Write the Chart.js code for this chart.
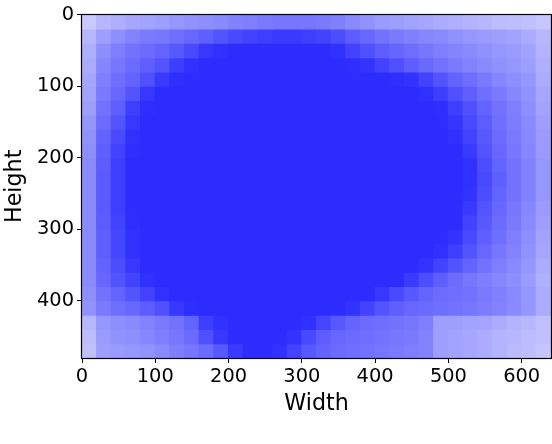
<!DOCTYPE html>
<html>
<head>
<meta charset="utf-8">
<script src="https://cdn.jsdelivr.net/npm/chart.js@4/dist/chart.umd.min.js"></script>
<style>
  html, body { margin: 0; padding: 0; background: #fff; }
  canvas { display: block; }
</style>
</head>
<body>
<canvas id="c" width="552" height="444"></canvas>
<script>
// Image grid: column centres (Width) and row centres (Height), in pixels of the 640x480 image
const columns = [10,30,50,70,90,110,130,150,170,190,210,230,250,270,290,310,330,350,370,390,410,430,450,470,490,510,530,550,570,590,610,630];
const rows = [10,30,50,70,90,110,130,150,170,190,210,230,250,270,290,310,330,350,370,390,410,430,450,470];
const xTicks = [0,100,200,300,400,500,600];
const yTicks = [0,100,200,300,400];
const xTitle = 'Width';
const yTitle = 'Height';

// Intensity (0-100) of each cell, one list per row (top to bottom)
const intensity = [
  [20,28,32,36,38,40,44,46, 48,50,54,56,58,60,60,60, 58,55,50,46,42,40,38,36, 34,32,30,28,26,25,24,22],
  [28,40,48,54,58,60,64,68, 72,78,84,88,90,92,92,90, 88,82,74,68,62,58,55,52, 50,47,44,42,40,38,34,28],
  [32,48,56,62,66,70,76,84, 94,98,100,100,100,100,100,100, 100,97,88,80,74,69,65,60, 56,53,50,47,44,42,38,30],
  [34,52,60,66,72,78,90,97, 100,100,100,100,100,100,100,100, 100,100,99,96,88,80,73,67, 62,58,54,50,47,44,40,32],
  [36,55,64,70,80,92,99,100, 100,100,100,100,100,100,100,100, 100,100,100,100,100,99,96,88, 78,70,64,58,52,48,44,34],
  [38,58,68,78,94,100,100,100, 100,100,100,100,100,100,100,100, 100,100,100,100,100,100,100,98, 90,80,72,64,58,52,46,36],
  [40,62,72,90,99,100,100,100, 100,100,100,100,100,100,100,100, 100,100,100,100,100,100,100,100, 99,90,80,70,62,56,48,38],
  [44,66,78,94,100,100,100,100, 100,100,100,100,100,100,100,100, 100,100,100,100,100,100,100,100, 100,95,84,74,64,57,50,40],
  [46,70,84,97,100,100,100,100, 100,100,100,100,100,100,100,100, 100,100,100,100,100,100,100,100, 100,98,88,76,66,58,51,42],
  [48,72,88,99,100,100,100,100, 100,100,100,100,100,100,100,100, 100,100,100,100,100,100,100,100, 100,100,92,78,68,60,52,42],
  [50,74,90,100,100,100,100,100, 100,100,100,100,100,100,100,100, 100,100,100,100,100,100,100,100, 100,100,97,82,70,62,54,44],
  [50,75,90,100,100,100,100,100, 100,100,100,100,100,100,100,100, 100,100,100,100,100,100,100,100, 100,100,98,84,72,62,54,44],
  [50,75,90,100,100,100,100,100, 100,100,100,100,100,100,100,100, 100,100,100,100,100,100,100,100, 100,100,96,82,70,62,54,44],
  [50,75,90,100,100,100,100,100, 100,100,100,100,100,100,100,100, 100,100,100,100,100,100,100,100, 100,100,92,78,68,60,52,42],
  [50,74,88,99,100,100,100,100, 100,100,100,100,100,100,100,100, 100,100,100,100,100,100,100,100, 100,100,88,76,66,58,50,40],
  [50,72,86,98,100,100,100,100, 100,100,100,100,100,100,100,100, 100,100,100,100,100,100,100,100, 100,96,84,72,64,56,48,38],
  [50,72,86,97,100,100,100,100, 100,100,100,100,100,100,100,100, 100,100,100,100,100,100,100,100, 98,90,78,68,60,54,46,36],
  [50,70,82,94,100,100,100,100, 100,100,100,100,100,100,100,100, 100,100,100,100,100,100,100,96, 88,78,70,62,56,50,44,34],
  [50,68,78,88,97,100,100,100, 100,100,100,100,100,100,100,100, 100,100,100,100,100,100,92,82, 72,66,60,56,52,48,42,32],
  [48,62,70,78,88,98,100,100, 100,100,100,100,100,100,100,100, 100,100,100,100,94,84,76,70, 66,64,62,58,55,50,44,34],
  [46,58,64,68,74,80,94,99, 100,100,100,100,100,100,100,100, 100,100,96,88,78,72,68,66, 64,62,60,57,54,50,44,34],
  [28,44,48,50,54,58,62,70, 90,98,100,100,100,100,100,98, 86,76,70,66,64,62,60,56, 40,40,38,37,34,30,28,24],
  [26,42,46,48,52,56,60,66, 80,94,100,100,100,100,96,84, 74,68,66,64,62,60,58,54, 40,38,36,34,30,28,26,24],
  [24,40,42,44,46,50,56,60, 66,76,92,100,100,98,88,76, 70,66,64,62,60,58,56,54, 40,38,36,34,30,27,25,22]
];

// colour scale: white-lavender to saturated blue
function shade(v) {
  const t = Math.pow(v / 100, 0.85);
  const r = Math.round(255 - t * 211);
  return 'rgb(' + r + ',' + r + ',255)';
}

const half = (columns[1] - columns[0]) / 2;
const datasets = rows.map((yc, i) => ({
  label: 'row ' + yc,
  data: columns.map(xc => ({ x: xc, y: [yc - half, yc + half] })),
  backgroundColor: intensity[i].map(shade),
  borderWidth: 0,
  inflateAmount: 0.6,
  barPercentage: 1,
  categoryPercentage: 1
}));

const framePlugin = {
  id: 'frame',
  afterDatasetsDraw(chart) {
    const a = chart.chartArea, ctx = chart.ctx;
    ctx.save();
    ctx.strokeStyle = '#000';
    ctx.lineWidth = 1.2;
    ctx.strokeRect(Math.round(a.left) - 0.5, Math.round(a.top) - 0.5, Math.round(a.right - a.left) + 1, Math.round(a.bottom - a.top) + 1);
    ctx.restore();
  }
};

Chart.defaults.color = '#000';
Chart.defaults.font.family = '"DejaVu Sans", sans-serif';

new Chart(document.getElementById('c'), {
  type: 'bar',
  data: { datasets },
  options: {
    responsive: false,
    animation: false,
    devicePixelRatio: 1,
    layout: { padding: { left: 0, top: 10, right: 1, bottom: 0 } },
    plugins: { legend: { display: false }, tooltip: { enabled: false } },
    scales: {
      x: {
        type: 'linear',
        stacked: true,
        offset: false,
        min: 0,
        max: 640,
        afterBuildTicks: axis => { axis.ticks = xTicks.map(v => ({ value: v })); },
        afterFit: axis => { axis.height = 86; },
        ticks: { font: { size: 19.4 }, padding: 2, maxRotation: 0, autoSkip: false },
        grid: { display: true, drawOnChartArea: false, drawTicks: true, tickLength: 5, color: '#000', offset: false },
        border: { display: true, color: '#000', width: 1.2 },
        title: { display: true, text: xTitle, font: { size: 22.2 }, padding: { top: 1, bottom: 26 } }
      },
      y: {
        type: 'linear',
        reverse: true,
        min: 0,
        max: 480,
        afterBuildTicks: axis => { axis.ticks = yTicks.map(v => ({ value: v })); },
        afterFit: axis => { axis.width = 82; },
        ticks: { font: { size: 19.4 }, padding: 3, autoSkip: false },
        grid: { display: true, drawOnChartArea: false, drawTicks: true, tickLength: 5, color: '#000' },
        border: { display: true, color: '#000', width: 1.2 },
        title: { display: true, text: yTitle, font: { size: 22.2 }, padding: { top: 2, bottom: 4 } }
      }
    }
  },
  plugins: [framePlugin]
});
</script>
</body>
</html>
